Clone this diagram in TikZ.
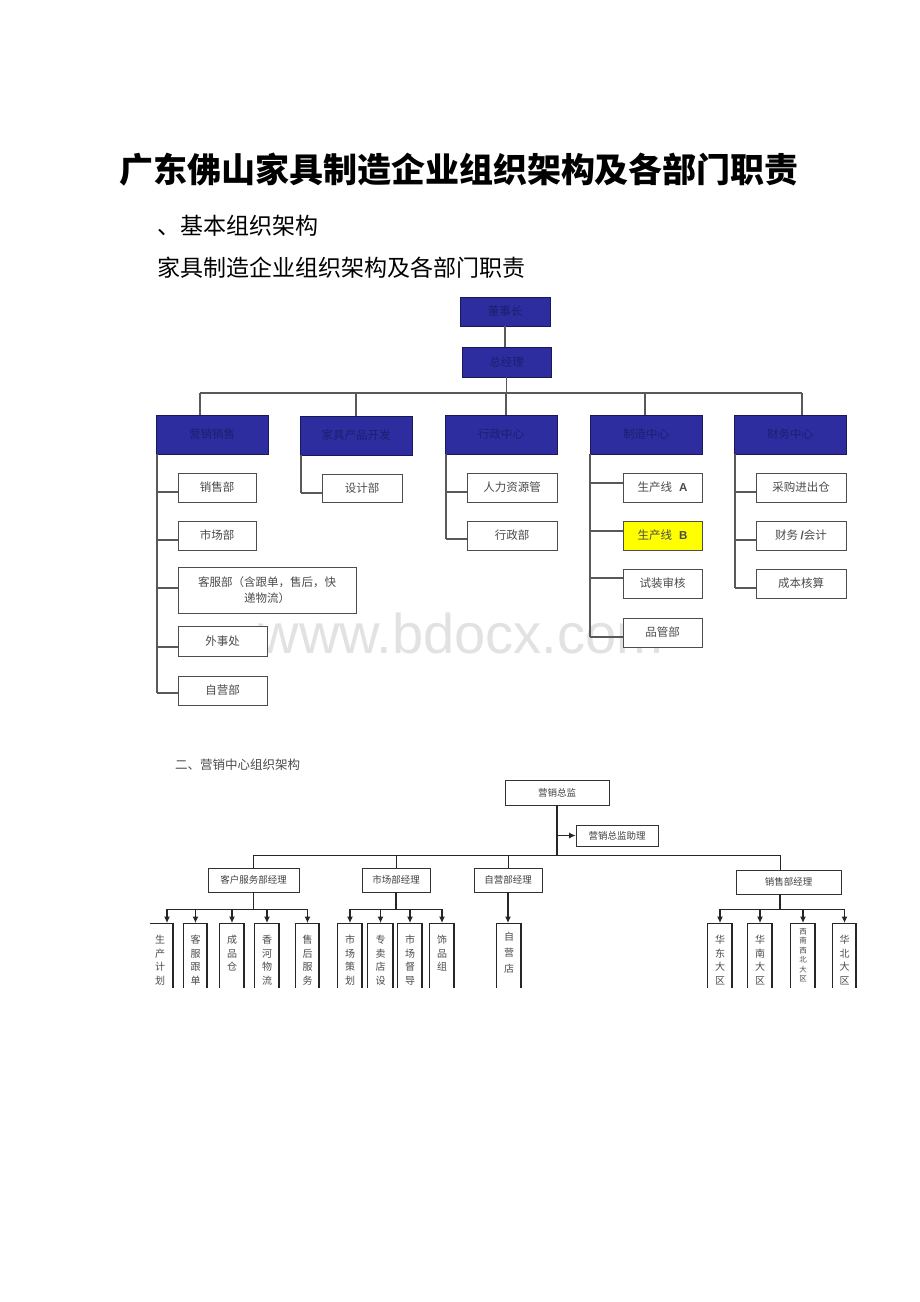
\documentclass[tikz,border=0pt]{standalone}
\usepackage{fontspec}
\setmainfont{Noto Sans CJK SC}
\newfontfamily\arialfont{Liberation Sans}
\usetikzlibrary{arrows.meta,shadows}
\definecolor{navyfill}{RGB}{45,45,160}
\definecolor{navyline}{RGB}{25,25,85}
\definecolor{navytext}{RGB}{30,30,110}
\definecolor{txt}{RGB}{75,75,75}
\definecolor{wm}{RGB}{226,226,226}
\definecolor{ybox}{RGB}{255,255,0}
\newcommand\bx[7][]{\node[#1,minimum width={#5-#3},minimum height={#6-#4}] (#2) at ({(#3+#5)/2},{(#4+#6)/2}) {#7};}
\newcommand\hk[3]{\draw[ln] ([yshift=#3]#2.west -| #1) -- ([yshift=#3]#2.west);}
\newcommand\obox[5][]{%
  \node[vtext,#1,minimum width={#4-#3},anchor=north] (#2) at ({(#3+#4)/2},923) {#5};
  \draw[ln2] (#2.north west |- bot) -- (#2.north west) -- (#2.north east);
  \draw[ln2,line width=1.5pt] (#2.north east) -- (#2.north east |- bot);}
\begin{document}
\begin{tikzpicture}[x=1pt,y=-1pt,
  ln/.style={draw=black!65,line width=1.4pt},
  ln2/.style={draw=black!85,line width=0.9pt},
  arr/.style={ln2,line width=1.1pt,-{Latex[length=6.5pt,width=6pt]}},
  bluebox/.style={draw=navyline,fill=navyfill,text=navytext,line width=0.8pt,inner sep=0pt,font=\fontsize{11.5}{13}\selectfont,drop shadow={shadow xshift=1pt,shadow yshift=-1pt,opacity=0.7,fill=black}},
  wbox/.style={draw=black!70,fill=white,text=txt,line width=0.8pt,inner sep=0pt,align=center,font=\fontsize{11.5}{16}\selectfont,drop shadow={shadow xshift=1.3pt,shadow yshift=-1.3pt,opacity=0.9,fill=black!85}},
  sbox/.style={draw=black!80,fill=white,text=black!75,line width=0.7pt,inner sep=0pt,font=\fontsize{9.5}{11}\selectfont,drop shadow={shadow xshift=1pt,shadow yshift=-1pt,opacity=0.8,fill=black!70}},
  vtext/.style={text=black!70,inner xsep=0pt,inner ysep=12pt,align=center,font=\fontsize{10}{13.5}\selectfont},
]
\useasboundingbox[fill=white] (0,0) rectangle (920,1302);

% headings
\node[font=\bfseries\fontsize{34}{40}\selectfont,inner sep=0] (title) at (459,170) {广东佛山家具制造企业组织架构及各部门职责};
\node[anchor=west,font=\fontsize{23}{26}\selectfont,inner sep=0] (h1) at (157,226) {、基本组织架构};
\node[anchor=west,font=\fontsize{23}{26}\selectfont,inner sep=0] (h2) at (157,268) {家具制造企业组织架构及各部门职责};

% watermark
\node[anchor=base,text=wm,font=\arialfont\fontsize{56}{60}\selectfont,inner sep=0] (wmk) at (461,653) {www.bdocx.com};

% ===== top chart =====
\bx[bluebox]{ceo}{460}{297}{550}{326}{董事长}
\bx[bluebox]{gm}{462}{347}{551}{377}{总经理}
\bx[bluebox]{b1}{156}{415}{268}{454}{营销销售}
\bx[bluebox]{b2}{300}{416}{412}{455}{家具产品开发}
\bx[bluebox]{b3}{445}{415}{557}{454}{行政中心}
\bx[bluebox]{b4}{590}{415}{702}{454}{制造中心}
\bx[bluebox]{b5}{734}{415}{846}{454}{财务中心}

\coordinate (bus) at (0,393);
\coordinate (d1) at (200,393);
\coordinate (d2) at (356,393);
\coordinate (d3) at (506,393);
\coordinate (d4) at (645,393);
\coordinate (d5) at (802,393);
\draw[ln] (ceo.south) -- (ceo.south |- gm.north);
\draw[ln] (gm.south) -- (gm.south |- bus);
\draw[ln] (d1) -- (d5);
\foreach \i in {1,...,5}{\draw[ln] (d\i) -- (d\i |- b\i.north);}

% children
\bx[wbox]{c11}{178}{473}{256}{502}{销售部}
\bx[wbox]{c12}{178}{521}{256}{550}{市场部}
\bx[wbox]{c13}{178}{567}{356}{613}{客服部（含跟单，售后，快\\递物流）}
\bx[wbox]{c14}{178}{626}{267}{656}{外事处}
\bx[wbox]{c15}{178}{676}{267}{705}{自营部}
\bx[wbox]{c21}{322}{474}{402}{502}{设计部}
\bx[wbox]{c31}{467}{473}{557}{502}{人力资源管}
\bx[wbox]{c32}{467}{521}{557}{550}{行政部}
\bx[wbox]{c41}{623}{473}{702}{502}{生产线\hspace{0.6em}{\arialfont\bfseries A}}
\bx[wbox,fill=ybox]{c42}{623}{521}{702}{550}{生产线\hspace{0.6em}{\arialfont\bfseries B}}
\bx[wbox]{c43}{623}{569}{702}{598}{试装审核}
\bx[wbox]{c44}{623}{618}{702}{647}{品管部}
\bx[wbox]{c51}{756}{473}{846}{502}{采购进出仓}
\bx[wbox]{c52}{756}{521}{846}{550}{财务 {\arialfont\bfseries /}会计}
\bx[wbox]{c53}{756}{569}{846}{598}{成本核算}

\coordinate (s1) at (157,0);
\coordinate (s2) at (301,0);
\coordinate (s3) at (446,0);
\coordinate (s4) at (590,0);
\coordinate (s5) at (735,0);
\draw[ln] (s1 |- b1.south) -- ([yshift=-2.5pt]c15.west -| s1);
\draw[ln] (s2 |- b2.south) -- ([yshift=-5pt]c21.west -| s2);
\draw[ln] (s3 |- b3.south) -- ([yshift=-3.5pt]c32.west -| s3);
\draw[ln] (s4 |- b4.south) -- ([yshift=-4.5pt]c44.west -| s4);
\draw[ln] (s5 |- b5.south) -- ([yshift=-4.5pt]c53.west -| s5);
\hk{s1}{c11}{-4.5pt}
\hk{s1}{c12}{-4.5pt}
\hk{s1}{c13}{2pt}
\hk{s1}{c14}{-6pt}
\hk{s1}{c15}{-2.5pt}
\hk{s2}{c21}{-5pt}
\hk{s3}{c31}{-4.5pt}
\hk{s3}{c32}{-3.5pt}
\hk{s4}{c41}{4.5pt}
\hk{s4}{c42}{4.5pt}
\hk{s4}{c43}{5.5pt}
\hk{s4}{c44}{-4.5pt}
\hk{s5}{c51}{-4.5pt}
\hk{s5}{c52}{-4.5pt}
\hk{s5}{c53}{-4.5pt}

% ===== bottom chart =====
\node[anchor=west,inner sep=0,text=black!70,font=\fontsize{12.5}{14}\selectfont] (h3) at (175,765) {二、营销中心组织架构};

\bx[sbox]{m0}{505}{780}{609}{805}{营销总监}
\bx[sbox]{m0a}{576}{825}{658}{846}{营销总监助理}
\bx[sbox]{m1}{208}{868}{299}{892}{客户服务部经理}
\bx[sbox]{m2}{362}{868}{430}{892}{市场部经理}
\bx[sbox]{m3}{474}{868}{542}{892}{自营部经理}
\bx[sbox]{m4}{736}{870}{841}{894}{销售部经理}

\coordinate (bus2) at (0,855);
\coordinate (bus3) at (0,909);
\coordinate (bot) at (0,990);
\coordinate (e4) at (780,855);
\draw[ln2,line width=1.3pt] (m0.south) -- (m0.south |- bus2);
\draw[arr] (m0.south |- m0a.west) -- (m0a.west);
\draw[ln2] (m1.north |- bus2) -- (e4);
\draw[ln2] (m1.north |- bus2) -- (m1.north);
\draw[ln2] (m2.north |- bus2) -- (m2.north);
\draw[ln2] (m3.north |- bus2) -- (m3.north);
\draw[ln2] (e4) -- (e4 |- m4.north);
\draw[ln2,line width=1.3pt] (m1.south) -- (m1.south |- bus3);
\draw[ln2,line width=1.3pt] (m2.south) -- (m2.south |- bus3);
\draw[ln2,line width=1.3pt] (e4 |- m4.south) -- (e4 |- bus3);

\begin{scope}
\clip (150,895) rectangle (920,987.5);
\obox{g11}{147}{173}{生\\产\\计\\划}
\obox{g12}{184}{207}{客\\服\\跟\\单\\组}
\obox{g13}{220}{244}{成\\品\\仓}
\obox{g14}{255}{279}{香\\河\\物\\流}
\obox{g15}{296}{319}{售\\后\\服\\务}
\obox{g21}{338}{362}{市\\场\\策\\划}
\obox{g22}{368}{393}{专\\卖\\店\\设\\计}
\obox{g23}{398}{422}{市\\场\\督\\导}
\obox{g24}{430}{454}{饰\\品\\组}
\obox[inner ysep=9pt,font=\fontsize{10}{16}\selectfont]{g31}{497}{521}{自\\营\\店}
\obox{g41}{708}{732}{华\\东\\大\\区}
\obox{g42}{748}{772}{华\\南\\大\\区}
\obox[inner ysep=5pt,font=\fontsize{7.5}{9.5}\selectfont]{g43}{791}{815}{西\\南\\西\\北\\大\\区}
\obox{g44}{833}{856}{华\\北\\大\\区}
\end{scope}

\draw[ln2] ([xshift=7pt]g11.north |- bus3) -- (g15.north |- bus3);
\draw[ln2] (g21.north |- bus3) -- (g24.north |- bus3);
\draw[ln2] (g41.north |- bus3) -- (g44.north |- bus3);
\draw[arr] ([xshift=7pt]g11.north |- bus3) -- ([xshift=7pt]g11.north);
\foreach \n in {g12,g13,g14,g15,g21,g22,g23,g24,g41,g42,g43,g44}{\draw[arr] (\n.north |- bus3) -- (\n.north);}
\draw[arr] (m3.south) -- (m3.south |- g31.north);
\end{tikzpicture}
\end{document}
